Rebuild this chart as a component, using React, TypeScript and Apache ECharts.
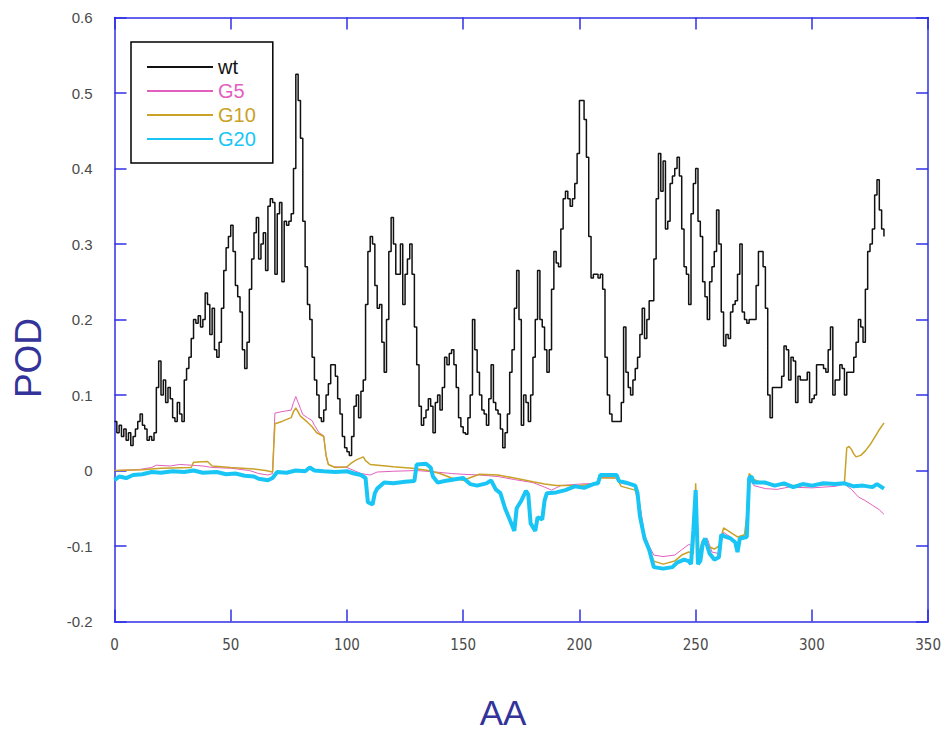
import React, { useEffect, useRef } from "react";
import * as echarts from "echarts";

// x-axis ticks (AA) and y-axis ticks (POD)
const xTicks = [0, 50, 100, 150, 200, 250, 300, 350];
const yTicks = [-0.2, -0.1, 0, 0.1, 0.2, 0.3, 0.4, 0.5, 0.6];

// wt: POD value for each AA position, starting at AA 0
const wt = [
  0.065, 0.05, 0.06, 0.045, 0.055, 0.04, 0.05, 0.033, 0.045, 0.055,
  0.065, 0.075, 0.06, 0.055, 0.04, 0.045, 0.04, 0.05, 0.11, 0.145,
  0.1, 0.12, 0.09, 0.11, 0.095, 0.07, 0.065, 0.09, 0.075, 0.065,
  0.12, 0.135, 0.15, 0.175, 0.2, 0.195, 0.205, 0.19, 0.2, 0.235,
  0.22, 0.18, 0.215, 0.16, 0.15, 0.17, 0.215, 0.265, 0.295, 0.31,
  0.325, 0.29, 0.245, 0.23, 0.21, 0.16, 0.135, 0.17, 0.24, 0.28,
  0.315, 0.335, 0.28, 0.3, 0.315, 0.265, 0.35, 0.36, 0.355, 0.26,
  0.34, 0.355, 0.25, 0.33, 0.325, 0.33, 0.34, 0.4, 0.525, 0.49,
  0.44, 0.33, 0.27, 0.22, 0.2, 0.15, 0.12, 0.1, 0.07, 0.065,
  0.08, 0.1, 0.115, 0.14, 0.14, 0.125, 0.095, 0.075, 0.045, 0.03,
  0.025, 0.02, 0.045, 0.085, 0.1, 0.07, 0.105, 0.12, 0.22, 0.29,
  0.31, 0.3, 0.245, 0.215, 0.22, 0.17, 0.13, 0.2, 0.29, 0.335,
  0.3, 0.26, 0.26, 0.3, 0.22, 0.26, 0.28, 0.3, 0.26, 0.19,
  0.14, 0.085, 0.06, 0.07, 0.08, 0.095, 0.085, 0.05, 0.09, 0.1,
  0.08, 0.11, 0.15, 0.14, 0.155, 0.16, 0.14, 0.11, 0.07, 0.058,
  0.05, 0.048, 0.07, 0.1, 0.2, 0.16, 0.13, 0.1, 0.08, 0.075,
  0.06, 0.095, 0.14, 0.09, 0.08, 0.075, 0.055, 0.03, 0.05, 0.075,
  0.13, 0.16, 0.215, 0.265, 0.2, 0.06, 0.1, 0.09, 0.065, 0.1,
  0.15, 0.2, 0.265, 0.2, 0.19, 0.16, 0.13, 0.16, 0.24, 0.29,
  0.275, 0.27, 0.32, 0.36, 0.37, 0.36, 0.35, 0.36, 0.38, 0.42,
  0.49, 0.49, 0.465, 0.415, 0.31, 0.255, 0.26, 0.26, 0.255, 0.26,
  0.24, 0.15, 0.1, 0.075, 0.065, 0.065, 0.065, 0.065, 0.09, 0.19,
  0.13, 0.11, 0.1, 0.12, 0.135, 0.15, 0.18, 0.215, 0.175, 0.2,
  0.225, 0.225, 0.28, 0.36, 0.42, 0.37, 0.41, 0.32, 0.33, 0.38,
  0.39, 0.4, 0.415, 0.39, 0.32, 0.27, 0.26, 0.22, 0.34, 0.38,
  0.4, 0.33, 0.31, 0.25, 0.23, 0.2, 0.25, 0.27, 0.29, 0.345,
  0.3, 0.21, 0.165, 0.18, 0.175, 0.21, 0.22, 0.225, 0.26, 0.3,
  0.21, 0.2, 0.195, 0.2, 0.2, 0.2, 0.245, 0.29, 0.29, 0.27,
  0.215, 0.1, 0.07, 0.11, 0.11, 0.11, 0.11, 0.125, 0.165, 0.16,
  0.12, 0.15, 0.145, 0.09, 0.125, 0.12, 0.12, 0.12, 0.13, 0.09,
  0.095, 0.1, 0.14, 0.14, 0.14, 0.135, 0.13, 0.16, 0.19, 0.1,
  0.12, 0.12, 0.14, 0.135, 0.1, 0.13, 0.13, 0.13, 0.15, 0.17,
  0.2, 0.19, 0.17, 0.24, 0.29, 0.3, 0.32, 0.365, 0.385, 0.345,
  0.32, 0.31,
];

// G5: [AA, POD]
const g5 = [
  [0, 0.0], [10, 0.001], [16, 0.004], [18, 0.007], [24, 0.006], [28, 0.008], [33, 0.007],
  [38, 0.006], [42, 0.004], [50, 0.003], [58, 0.0], [62, -0.004], [66, -0.006], [68, -0.004],
  [69, 0.076], [72, 0.078], [76, 0.08], [77, 0.09], [78, 0.098], [79, 0.09], [80, 0.082],
  [81, 0.074], [83, 0.07], [85, 0.066], [86, 0.06], [88, 0.05], [90, 0.046], [91, 0.02],
  [92, 0.008], [94, 0.005], [100, 0.004], [103, 0.0], [106, -0.004], [110, -0.006],
  [113, -0.002], [120, -0.001], [130, 0.0], [138, -0.002], [145, -0.004], [150, -0.005],
  [157, -0.006], [165, -0.008], [172, -0.012], [180, -0.016], [185, -0.022], [188, -0.026],
  [192, -0.02], [200, -0.018], [207, -0.017], [209, -0.009], [216, -0.01], [218, -0.017],
  [224, -0.02], [226, -0.045], [228, -0.085], [230, -0.1], [232, -0.112], [236, -0.114],
  [241, -0.112], [244, -0.105], [247, -0.098], [249, -0.1], [250, -0.03], [251, -0.11],
  [253, -0.095], [255, -0.09], [257, -0.108], [260, -0.11], [262, -0.082], [265, -0.088],
  [268, -0.1], [270, -0.088], [272, -0.082], [273, -0.01], [275, -0.02], [280, -0.024],
  [285, -0.025], [290, -0.022], [300, -0.023], [310, -0.021], [314, -0.018], [317, -0.025],
  [320, -0.035], [323, -0.04], [326, -0.046], [329, -0.052], [331, -0.058],
];

// G10: [AA, POD]
const g10 = [
  [0, 0.0], [12, 0.001], [20, 0.003], [33, 0.004], [34, 0.011], [40, 0.012], [42, 0.006],
  [50, 0.004], [60, 0.002], [65, 0.0], [68, -0.002], [69, 0.062], [72, 0.065], [76, 0.07],
  [77, 0.078], [78, 0.083], [80, 0.072], [83, 0.064], [85, 0.058], [87, 0.05], [90, 0.045],
  [91, 0.02], [92, 0.008], [95, 0.004], [100, 0.005], [102, 0.01], [104, 0.014], [107, 0.018],
  [108, 0.013], [110, 0.008], [120, 0.005], [128, 0.003], [135, 0.0], [140, -0.004],
  [145, -0.01], [150, -0.013], [157, -0.005], [165, -0.006], [172, -0.01], [180, -0.015],
  [185, -0.018], [190, -0.02], [200, -0.02], [207, -0.018], [209, -0.01], [216, -0.01],
  [218, -0.021], [224, -0.026], [226, -0.05], [228, -0.09], [230, -0.108], [232, -0.12],
  [236, -0.124], [241, -0.12], [244, -0.112], [247, -0.108], [249, -0.11], [250, -0.017],
  [251, -0.115], [253, -0.092], [255, -0.1], [258, -0.104], [260, -0.1], [262, -0.076],
  [265, -0.082], [268, -0.088], [271, -0.085], [272, -0.06], [273, -0.004], [275, -0.012],
  [280, -0.018], [290, -0.02], [300, -0.02], [310, -0.018], [314, -0.016], [315, 0.03],
  [316, 0.032], [317, 0.028], [318, 0.022], [319, 0.018], [321, 0.02], [323, 0.026],
  [325, 0.034], [327, 0.044], [329, 0.054], [331, 0.063],
];

// G20: [AA, POD]
const g20 = [
  [0, -0.013], [2, -0.008], [5, -0.01], [8, -0.006], [12, -0.005], [16, -0.002], [20, -0.003],
  [25, -0.001], [30, -0.002], [34, 0.0], [38, -0.003], [44, -0.002], [48, -0.005], [52, -0.004],
  [56, -0.007], [60, -0.008], [62, -0.011], [66, -0.013], [68, -0.01], [70, -0.002], [74, -0.003],
  [78, 0.0], [82, -0.001], [84, 0.004], [86, 0.0], [90, -0.001], [95, -0.002], [100, -0.001],
  [103, -0.004], [106, -0.006], [108, -0.01], [109, -0.042], [111, -0.045], [112, -0.03],
  [113, -0.024], [116, -0.016], [120, -0.017], [125, -0.015], [129, -0.014], [130, 0.008],
  [134, 0.009], [136, 0.004], [137, -0.008], [139, -0.016], [142, -0.014], [146, -0.012],
  [150, -0.01], [153, -0.018], [156, -0.02], [160, -0.017], [162, -0.013], [164, -0.025],
  [166, -0.03], [168, -0.05], [170, -0.065], [172, -0.08], [173, -0.05], [175, -0.04],
  [177, -0.027], [178, -0.032], [179, -0.07], [181, -0.08], [182, -0.062], [184, -0.065],
  [185, -0.04], [186, -0.03], [190, -0.029], [194, -0.026], [198, -0.021], [202, -0.023],
  [206, -0.018], [208, -0.017], [209, -0.006], [216, -0.006], [217, -0.014], [220, -0.016],
  [224, -0.02], [225, -0.03], [226, -0.06], [228, -0.09], [230, -0.105], [232, -0.128],
  [236, -0.13], [240, -0.128], [242, -0.122], [245, -0.118], [247, -0.12], [248, -0.124],
  [249, -0.08], [250, -0.026], [251, -0.124], [252, -0.12], [253, -0.098], [254, -0.09],
  [256, -0.11], [258, -0.118], [260, -0.115], [261, -0.085], [263, -0.088], [265, -0.09],
  [267, -0.095], [268, -0.108], [269, -0.09], [272, -0.088], [273, -0.01], [274, -0.008],
  [275, -0.016], [280, -0.016], [284, -0.02], [288, -0.017], [292, -0.022], [296, -0.018],
  [300, -0.02], [305, -0.017], [310, -0.018], [314, -0.017], [318, -0.021], [322, -0.02],
  [326, -0.022], [328, -0.018], [331, -0.024],
];

const seriesNames = ["wt", "G5", "G10", "G20"];
const seriesColors = ["#111111", "#e35fbf", "#c9a227", "#19c5f5"];
const seriesWidths = [1.5, 1, 1.5, 4];

const AXIS_BLUE = "#2f2fe6";
const LABEL_GREY = "#4a4a4a";
const TITLE_BLUE = "#333399";

export default function App() {
  const ref = useRef<HTMLDivElement>(null);

  useEffect(() => {
    if (!ref.current) return;
    const chart = echarts.init(ref.current, null, { renderer: "svg" });

    const xMin = xTicks[0];
    const xMax = xTicks[xTicks.length - 1];
    const xInt = xTicks[1] - xTicks[0];
    const yMin = yTicks[0];
    const yMax = yTicks[yTicks.length - 1];

    const axisCommon = {
      axisLine: { show: true, onZero: false, lineStyle: { color: AXIS_BLUE, width: 1.5 } },
      axisTick: { show: true, inside: true, length: 12, lineStyle: { color: AXIS_BLUE, width: 1.5 } },
      splitLine: { show: false },
    };

    const dataSets = [
      wt.map((v, i) => [i, v]),
      g5,
      g10,
      g20,
    ];

    chart.setOption({
      animation: false,
      backgroundColor: "#ffffff",
      grid: { left: 114.5, right: 14, top: 17.5, bottom: 110.5, containLabel: false },
      xAxis: [
        {
          type: "value",
          min: xMin,
          max: xMax,
          interval: xInt,
          position: "bottom",
          ...axisCommon,
          axisLabel: {
            color: LABEL_GREY,
            fontSize: 15,
            fontFamily: "'Liberation Sans Narrow', 'DejaVu Sans Condensed', 'Liberation Sans', Arial, sans-serif",
            margin: 16,
          },
        },
        {
          type: "value",
          min: xMin,
          max: xMax,
          interval: xInt,
          position: "top",
          ...axisCommon,
          axisLabel: { show: false },
        },
      ],
      yAxis: [
        {
          type: "value",
          min: yMin,
          max: yMax,
          interval: 0.1,
          position: "left",
          ...axisCommon,
          axisLabel: {
            color: LABEL_GREY,
            fontSize: 15,
            fontFamily: "'Liberation Sans', Arial, sans-serif",
            margin: 22,
            formatter: (v: number) => {
              const r = Math.round(v * 10) / 10;
              return r === 0 ? "0" : String(r);
            },
          },
        },
        {
          type: "value",
          min: yMin,
          max: yMax,
          interval: 0.1,
          position: "right",
          ...axisCommon,
          axisLabel: { show: false },
        },
      ],
      legend: {
        orient: "vertical",
        left: 131,
        top: 42,
        padding: [15, 17, 14, 15],
        itemGap: 4,
        itemWidth: 66,
        itemHeight: 14,
        borderColor: "#000000",
        borderWidth: 1.5,
        borderRadius: 0,
        backgroundColor: "#ffffff",
        itemStyle: { color: "rgba(0,0,0,0)", borderWidth: 0, borderColor: "rgba(0,0,0,0)" },
        textStyle: { fontSize: 20, fontFamily: "'Liberation Sans', Arial, sans-serif" },
        data: seriesNames.map((n, i) => ({
          name: n,
          textStyle: { color: seriesColors[i] },
        })),
      },
      graphic: [
        {
          type: "text",
          x: 28,
          y: 358,
          rotation: Math.PI / 2,
          style: {
            text: "POD",
            fill: TITLE_BLUE,
            fontSize: 37,
            fontFamily: "'Liberation Sans', Arial, sans-serif",
            align: "center",
            verticalAlign: "middle",
          },
        },
        {
          type: "text",
          x: 503,
          y: 712,
          style: {
            text: "AA",
            fill: TITLE_BLUE,
            fontSize: 35,
            fontFamily: "'Liberation Sans', Arial, sans-serif",
            align: "center",
            verticalAlign: "middle",
          },
        },
      ],
      series: seriesNames.map((n, i) => ({
        name: n,
        type: "line",
        data: dataSets[i],
        step: i === 0 ? "end" : undefined,
        showSymbol: false,
        symbol: "none",
        clip: true,
        lineStyle: { color: seriesColors[i], width: seriesWidths[i] },
        itemStyle: { color: seriesColors[i] },
        z: 2 + i,
      })),
    });

    return () => chart.dispose();
  }, []);

  return (
    <div
      ref={ref}
      style={{ position: "absolute", left: 0, top: 0, width: 944, height: 732 }}
    />
  );
}
